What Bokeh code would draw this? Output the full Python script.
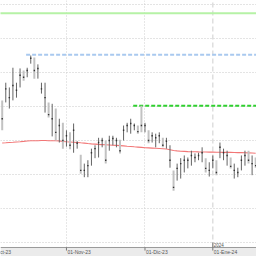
import numpy as np
import pandas as pd
from bokeh.plotting import figure
from bokeh.models import Range1d, ColumnDataSource, FixedTicker, Grid
from bokeh.core.properties import value
from bokeh.embed import file_html
from bokeh.resources import INLINE

# ---------------- data ----------------
holidays = ["2023-12-25", "2023-12-26", "2024-01-01"]
first_bar = "2023-10-06"

opens = [12.03, 12.12, 12.03, 12.15, 12.18, 12.32, 12.50, 12.46, 12.65, 12.68,
         12.44, 12.21, 11.97, 12.03, 11.65, 11.91, 11.53, 11.72, 11.47, 11.59,
         11.38, 11.41, 11.26, 10.99, 11.00, 11.18, 11.28, 11.29, 11.43, 11.47,
         11.38, 11.46, 11.43, 11.49, 11.53, 11.65, 11.63, 11.68, 11.71, 11.94,
         11.65, 11.62, 11.50, 11.43, 11.49, 11.53, 11.41, 11.13, 11.03, 10.96,
         10.99, 11.09, 11.12, 11.18, 11.21, 11.24, 11.21, 11.21, 11.00, 11.12,
         11.18, 11.26, 11.24, 11.18, 11.24, 10.97, 10.99, 11.09, 11.18, 11.32,
         11.03, 11.24]
highs = [12.09, 12.35, 12.28, 12.57, 12.35, 12.56, 12.53, 12.57, 12.75, 12.72,
         12.62, 12.35, 12.35, 12.06, 12.04, 11.97, 11.82, 11.76, 11.65, 11.62,
         11.75, 11.49, 11.29, 11.16, 11.21, 11.38, 11.43, 11.54, 11.54, 11.50,
         11.57, 11.57, 11.54, 11.51, 11.72, 11.76, 11.82, 11.75, 11.72, 12.01,
         11.76, 11.65, 11.62, 11.60, 11.62, 11.54, 11.54, 11.43, 11.06, 11.16,
         11.24, 11.28, 11.25, 11.35, 11.31, 11.32, 11.40, 11.24, 11.18, 11.28,
         11.21, 11.47, 11.38, 11.35, 11.25, 11.16, 11.10, 11.28, 11.35, 11.35,
         11.28, 11.25]
lows = [11.65, 12.06, 11.97, 12.09, 12.13, 12.28, 12.38, 12.43, 12.63, 12.41,
        12.41, 12.19, 11.91, 11.84, 11.56, 11.50, 11.47, 11.38, 11.41, 11.37,
        11.32, 11.38, 11.01, 10.96, 10.96, 11.13, 11.24, 11.25, 11.40, 11.16,
        11.35, 11.43, 11.40, 11.31, 11.50, 11.62, 11.60, 11.65, 11.60, 11.62,
        11.62, 11.46, 11.47, 11.40, 11.46, 11.40, 11.38, 11.10, 10.76, 10.91,
        10.94, 11.03, 11.09, 11.13, 11.18, 11.21, 11.18, 11.03, 10.97, 11.09,
        10.99, 11.24, 11.21, 11.13, 11.09, 10.94, 10.96, 11.06, 11.13, 11.16,
        10.99, 11.10]
closes = [11.82, 12.26, 12.13, 12.31, 12.24, 12.46, 12.43, 12.53, 12.71, 12.53,
          12.56, 12.26, 12.13, 11.88, 11.82, 11.62, 11.72, 11.50, 11.57, 11.43,
          11.65, 11.46, 11.06, 11.06, 11.13, 11.32, 11.38, 11.47, 11.50, 11.21,
          11.50, 11.53, 11.50, 11.35, 11.65, 11.72, 11.75, 11.72, 11.63, 11.72,
          11.72, 11.50, 11.57, 11.54, 11.57, 11.43, 11.49, 11.21, 10.81, 11.09,
          11.16, 11.21, 11.21, 11.28, 11.25, 11.28, 11.32, 11.09, 11.06, 11.21,
          11.03, 11.40, 11.32, 11.28, 11.12, 11.06, 11.03, 11.21, 11.28, 11.21,
          11.16, 11.13]
moving_avg = [11.463, 11.466, 11.471, 11.474, 11.478, 11.482, 11.487, 11.493, 11.496, 11.497,
              11.497, 11.499, 11.499, 11.497, 11.497, 11.496, 11.493, 11.485, 11.481, 11.478,
              11.475, 11.471, 11.466, 11.462, 11.456, 11.451, 11.447, 11.443, 11.440, 11.437,
              11.434, 11.431, 11.428, 11.425, 11.421, 11.416, 11.412, 11.407, 11.403, 11.399,
              11.394, 11.391, 11.388, 11.385, 11.382, 11.379, 11.376, 11.365, 11.353, 11.347,
              11.343, 11.340, 11.337, 11.335, 11.334, 11.332, 11.331, 11.331, 11.329, 11.329,
              11.328, 11.328, 11.326, 11.326, 11.325, 11.324, 11.322, 11.321, 11.319, 11.318,
              11.316, 11.313]

# horizontal reference levels
level_values = [13.37, 12.76, 12.01]
level_starts = ["2023-10-02", "2023-10-17", "2023-11-28"]
level_colors = ["#b6f2a6", "#a9c9ef", "#2fcf2f"]
level_dashes = ["solid", "4 2", "4 2"]

grid_levels = [10.0, 10.5, 11.0, 11.5, 12.0, 12.5, 13.0, 13.5]

month_ticks = ["2023-10-02", "2023-11-01", "2023-12-01", "2024-01-02"]
month_labels = ["01-Oct-23", "01-Nov-23", "01-Dic-23", "01-Ene-24"]
year_tick = "2024-01-02"
year_label = "2024"

# ---------------- positions ----------------
trading = pd.bdate_range("2023-10-02", "2024-01-31", freq="C", holidays=holidays)
pos = {d.strftime("%Y-%m-%d"): i for i, d in enumerate(trading)}
n = len(highs)
xs = pos[first_bar] + np.arange(n)

x0 = pos[first_bar] - 0.476
x1 = x0 + 71.71
y0, y1 = 9.794, 13.559
axis_floor = 9.9265

p = figure(width=256, height=256, output_backend="svg", toolbar_location=None,
           x_axis_type=None, y_axis_type=None, min_border=0,
           x_range=Range1d(x0, x1), y_range=Range1d(y0, y1))
p.outline_line_color = None
p.background_fill_color = "white"
p.border_fill_color = "white"

# grids
p.add_layout(Grid(dimension=1, ticker=FixedTicker(ticks=grid_levels),
                  grid_line_color="#c9c9c9", grid_line_dash="1 2", grid_line_width=1))
p.add_layout(Grid(dimension=0, ticker=FixedTicker(ticks=[pos[m] for m in month_ticks[1:3]]),
                  grid_line_color="#cfcfcf", grid_line_dash="1 2", grid_line_width=1))
yx = pos[year_tick]
p.segment(x0=[yx], y0=[axis_floor], x1=[yx], y1=[y1], line_color="#d6d6d6",
          line_dash="5 3", line_width=1.2)

# reference levels
for v, s, c, d in zip(level_values, level_starts, level_colors, level_dashes):
    p.segment(x0=[pos[s] - 0.3], y0=[v], x1=[x1 + 5], y1=[v], line_color=c,
              line_width=2, line_dash=d)

# moving average
p.line(xs, moving_avg, line_color="#f27676", line_width=1.1)

# bars
src = pd.DataFrame(dict(x=xs, o=opens, h=highs, l=lows, c=closes))
down = src[src.c < src.o]
up = src[src.c >= src.o]
p.segment(x0="x", y0="l", x1="x", y1="h", source=ColumnDataSource(down),
          line_color="#c2c2c2", line_width=2.0)
p.segment(x0="x", y0="l", x1="x", y1="h", source=ColumnDataSource(up),
          line_color="#636363", line_width=1.0)
p.scatter(x="x", y="c", source=ColumnDataSource(src), marker="square", size=1.4,
          fill_color="#333333", line_color=None)

# axis strip
p.quad(left=[x0], right=[x1], bottom=[y0], top=[axis_floor], fill_color="#ebebeb",
       line_color=None)
p.segment(x0=[x0], y0=[axis_floor], x1=[x1], y1=[axis_floor], line_color="#9a9a9a",
          line_width=1)
tx = [pos[m] for m in month_ticks]
p.segment(x0=tx, y0=[axis_floor] * len(tx), x1=tx, y1=[axis_floor - 0.045] * len(tx),
          line_color="#777777", line_width=1)
p.text(x=tx, y=[(axis_floor + y0) / 2] * len(tx), text=month_labels,
       text_font=value("Liberation Sans"), text_font_size="5px", text_color="#555555",
       text_align="left", text_baseline="middle", x_offset=1)
p.segment(x0=[yx], y0=[axis_floor], x1=[yx], y1=[axis_floor + 0.075],
          line_color="#777777", line_width=1)
p.text(x=[yx], y=[axis_floor], text=[year_label], text_font=value("Liberation Sans"),
       text_font_size="4.5px", text_color="#555555", text_align="left",
       text_baseline="bottom", x_offset=1, y_offset=-0.5)

open("out.html", "w").write(file_html(p, INLINE))
